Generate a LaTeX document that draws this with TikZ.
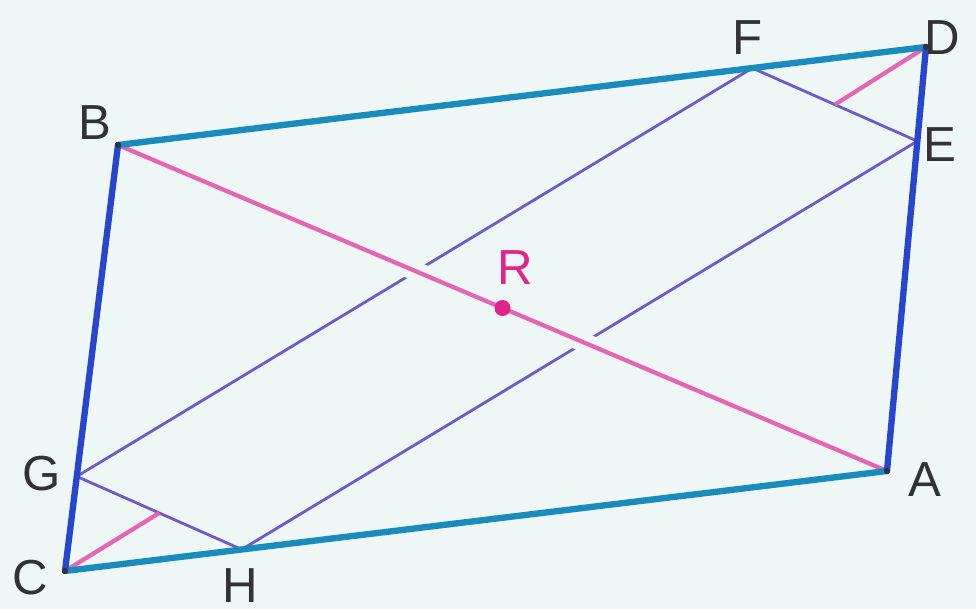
\documentclass[tikz,border=0pt]{standalone}
\usepackage{fontspec}
\setmainfont{Liberation Sans}
\usetikzlibrary{calc}
\definecolor{paper}{RGB}{238,246,246}
\definecolor{cyanline}{RGB}{25,140,190}
\definecolor{blueline}{RGB}{40,70,205}
\definecolor{pinkline}{RGB}{230,100,180}
\definecolor{violetline}{RGB}{110,90,200}
\definecolor{rmagenta}{RGB}{225,35,140}
\definecolor{labelgray}{RGB}{50,50,50}
\begin{document}
\begin{tikzpicture}
  [every node/.style={text=labelgray,font=\fontsize{14}{16}\selectfont},
   side/.style={line width=1.8pt,line cap=round,line join=round},
   inner/.style={draw=violetline,line width=0.8pt},
   diag/.style={draw=pinkline,line width=1.2pt}]
\useasboundingbox (0,0) rectangle (9.76,6.09);
  \fill[paper] (0,0) rectangle (9.76,6.09);
  % Ecken des Parallelogramms
  \coordinate (B) at (1.18,4.64);
  \coordinate (D) at (9.26,5.62);
  \coordinate (A) at (8.87,1.38);
  \coordinate (C) at (0.65,0.38);
  % Punkte auf den Seiten (punktsymmetrisch zu R)
  \coordinate (F) at ($(B)!0.785!(D)$);
  \coordinate (H) at ($(A)!0.785!(C)$);
  \coordinate (E) at ($(D)!0.222!(A)$);
  \coordinate (G) at ($(C)!0.222!(B)$);
  \coordinate (R) at ($(B)!0.5!(A)$);
  \coordinate (M1) at ($(G)!0.5!(H)$);
  \coordinate (M2) at ($(F)!0.5!(E)$);

  % inneres Rechteck
  \foreach \from/\to in {F/G, E/H, F/E, G/H}
    \draw[inner] (\from) -- (\to);

  % Diagonalen
  \draw[diag, preaction={draw=paper, line width=5.5pt}] (B) -- (A);
  \draw[diag] (C) -- (M1) (M2) -- (D);

  % Seiten
  \foreach \from/\to in {B/D, C/A}
    \draw[side, draw=cyanline] (\from) -- (\to);
  \foreach \from/\to in {B/C, D/A}
    \draw[side, draw=blueline] (\from) -- (\to);

  \foreach \p in {A, B, C, D}
    \fill[labelgray] (\p) circle (0.03);
  \fill[rmagenta] (R) circle (0.08);

  \node (lB) at (0.95,4.86) {B};
  \node (lF) at (7.48,5.71) {F};
  \node (lD) at (9.42,5.71) {D};
  \node (lE) at (9.40,4.64) {E};
  \node (lA) at (9.25,1.29) {A};
  \node (lG) at (0.42,1.35) {G};
  \node (lC) at (0.30,0.31) {C};
  \node (lH) at (2.40,0.23) {H};
  \node[text=rmagenta] (lR) at (5.15,3.41) {R};
\end{tikzpicture}
\end{document}
